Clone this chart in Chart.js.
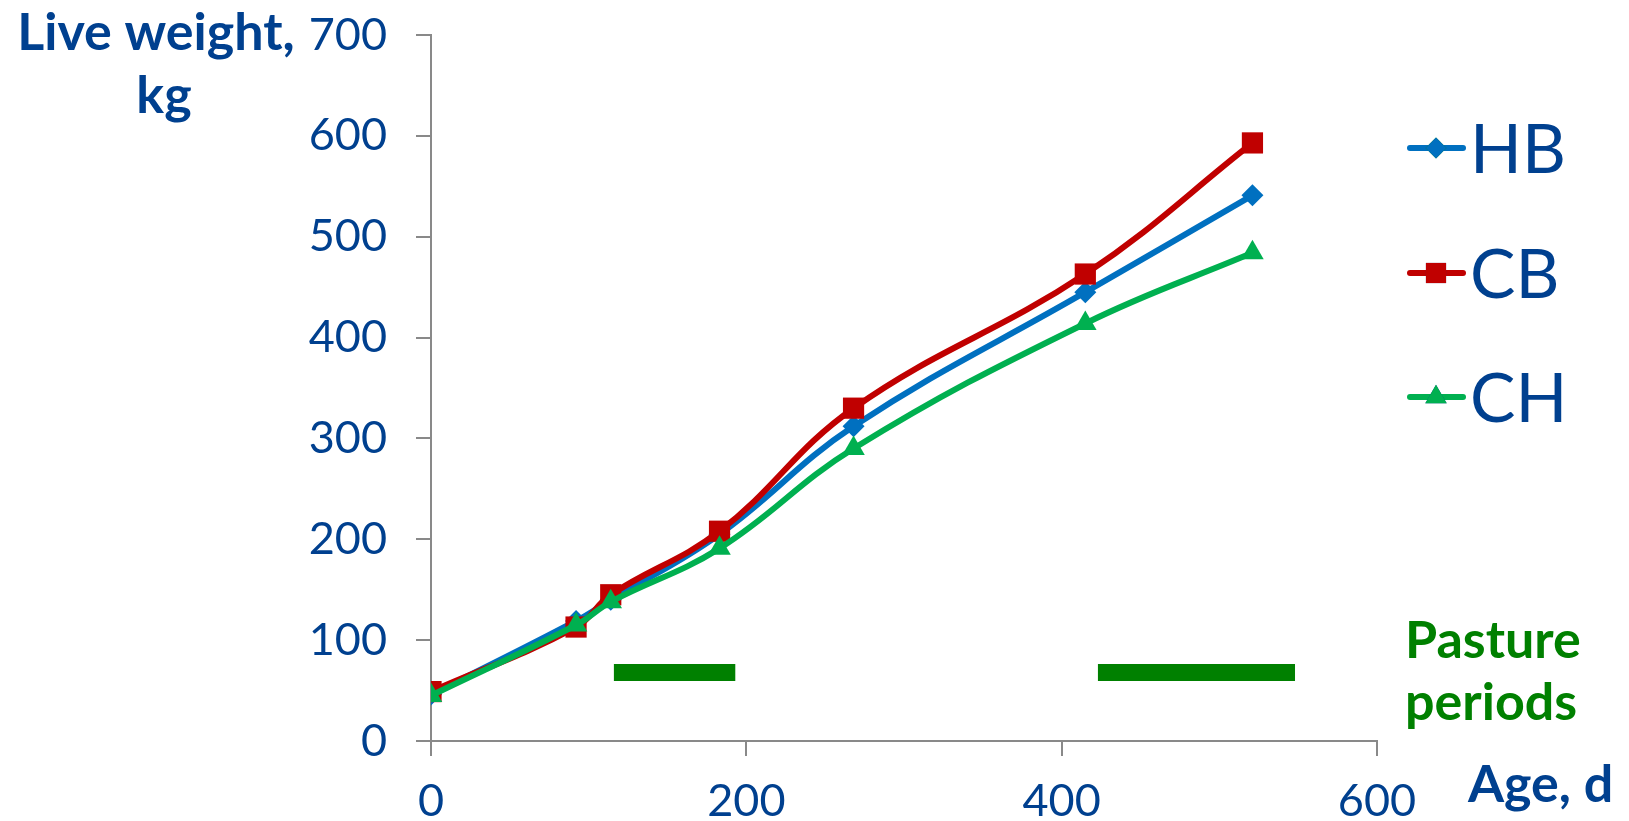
<!DOCTYPE html>
<html><head><meta charset="utf-8">
<script src="https://cdn.jsdelivr.net/npm/chart.js@4/dist/chart.umd.min.js"></script>
<style>html,body{margin:0;padding:0;background:#fff;overflow:hidden}#wrap{width:1629px;height:821px}</style>
</head><body><div id="wrap"><canvas id="c" width="1629" height="821"></canvas></div>
<script>
// ---- data ----
const seriesNames = ['HB', 'CB', 'CH'];
const ageDays  = [0, 92, 114, 183, 268, 415, 521];
const hbWeight = [46, 119, 140, 205, 312, 445, 541];
const cbWeight = [49, 113, 145, 208, 330, 463, 593];
const chWeight = [45, 115, 138, 191, 290, 414, 484];
const pastureStarts = [116, 423];
const pastureEnds   = [193, 548];
const pastureLevel  = 68;
const xTickValues = [0, 200, 400, 600];
const yTickValues = [0, 100, 200, 300, 400, 500, 600, 700];
const yTitleLines = ['Live weight,', 'kg'];
const xTitle = 'Age, d';
const pastureLabel = ['Pasture', 'periods'];

// ---- styles ----
const TEXT = '#00408F', AXIS = '#898989', PASTURE = '#008000';
const styles = {
  HB: {color: '#0070C0', pointStyle: 'rectRot', radius: 11},
  CB: {color: '#C00000', pointStyle: 'rect', radius: 15},
  CH: {color: '#00B050', pointStyle: 'triangle', radius: 13}
};
const FONT = 'Lato, "Open Sans", sans-serif';

function pts(xs, ys) { return xs.map((x, i) => ({x: x, y: ys[i]})); }
const values = {HB: hbWeight, CB: cbWeight, CH: chWeight};
const drawOrder = {HB: 3, CB: 2, CH: 1};

const datasets = seriesNames.map(n => ({
  label: n,
  data: pts(ageDays, values[n]),
  borderColor: styles[n].color,
  backgroundColor: styles[n].color,
  borderWidth: 6,
  pointStyle: styles[n].pointStyle,
  pointRadius: styles[n].radius,
  pointBorderWidth: 0,
  pointBackgroundColor: styles[n].color,
  tension: 0.4,
  order: drawOrder[n]
}));
pastureStarts.forEach((s, i) => {
  datasets.push({
    label: 'pasture' + i,
    data: [{x: s, y: pastureLevel}, {x: pastureEnds[i], y: pastureLevel}],
    borderColor: PASTURE, backgroundColor: PASTURE,
    borderWidth: 17, borderCapStyle: 'butt',
    pointRadius: 0, tension: 0, order: 10
  });
});

const overlay = {
  id: 'overlay',
  afterDraw(chart) {
    const ctx = chart.ctx;
    ctx.save();
    ctx.fillStyle = TEXT;
    ctx.font = 'bold 52px ' + FONT;
    ctx.textAlign = 'center';
    ctx.textBaseline = 'alphabetic';
    ctx.fillText(yTitleLines[0], 156, 50);
    ctx.fillText(yTitleLines[1], 164, 113);
    ctx.textAlign = 'left';
    ctx.fillText(xTitle, 1468, 802);
    ctx.fillStyle = PASTURE;
    ctx.fillText(pastureLabel[0], 1405, 658);
    ctx.fillText(pastureLabel[1], 1405, 720);
    const ys = [148, 273, 397];
    seriesNames.forEach((n, i) => {
      const st = styles[n];
      ctx.strokeStyle = st.color;
      ctx.lineWidth = 6;
      ctx.lineCap = 'round';
      ctx.beginPath();
      ctx.moveTo(1410, ys[i]); ctx.lineTo(1463, ys[i]);
      ctx.stroke();
      Chart.helpers.drawPoint(ctx, {pointStyle: st.pointStyle, radius: st.radius * 0.95, borderWidth: 0, rotation: 0}, 1436, ys[i]);
      ctx.fillStyle = st.color;
      ctx.fill();
      ctx.fillStyle = TEXT;
      ctx.font = '400 68px ' + FONT;
      ctx.textAlign = 'left';
      ctx.fillText(n, 1470, ys[i] + 25);
    });
    ctx.restore();
  }
};

new Chart(document.getElementById('c'), {
  type: 'line',
  data: {datasets: datasets},
  options: {
    responsive: false,
    animation: false,
    devicePixelRatio: 1,
    layout: {padding: {top: 35, right: 252, left: 0, bottom: 0}},
    plugins: {legend: {display: false}, tooltip: {enabled: false}},
    scales: {
      x: {
        type: 'linear', min: 0, max: 600,
        afterBuildTicks: s => { s.ticks = xTickValues.map(v => ({value: v})); },
        afterFit: s => { s.height = 80; s.paddingLeft = 0; s.paddingRight = 0; },
        grid: {drawOnChartArea: false, drawTicks: true, tickLength: 15, color: AXIS, lineWidth: 2},
        border: {display: true, color: AXIS, width: 2},
        ticks: {color: TEXT, font: {family: FONT, size: 45}, padding: 18, maxRotation: 0}
      },
      y: {
        type: 'linear', min: 0, max: 700,
        afterBuildTicks: s => { s.ticks = yTickValues.map(v => ({value: v})); },
        afterFit: s => { s.width = 431; s.paddingTop = 0; s.paddingBottom = 0; },
        grid: {drawOnChartArea: false, drawTicks: true, tickLength: 15, color: AXIS, lineWidth: 2},
        border: {display: true, color: AXIS, width: 2},
        ticks: {color: TEXT, font: {family: FONT, size: 45}, padding: 29}
      }
    }
  },
  plugins: [overlay]
});
</script></body></html>
